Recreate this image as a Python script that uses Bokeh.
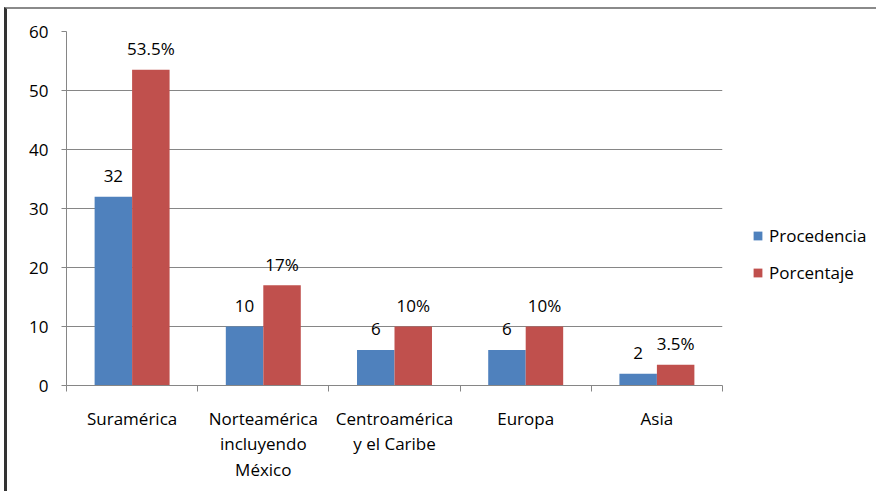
from bokeh.plotting import figure
from bokeh.models import ColumnDataSource, FixedTicker, Legend, LegendItem, Range1d
from bokeh.transform import dodge
from bokeh.core.properties import value
from bokeh.embed import file_html
from bokeh.resources import INLINE

categories = ["Suramérica", "Norteamérica\nincluyendo\nMéxico", "Centroamérica\ny el Caribe", "Europa", "Asia"]
procedencia = [32, 10, 6, 6, 2]
porcentaje = [53.5, 17, 10, 10, 3.5]
series_names = ["Procedencia", "Porcentaje"]
y_ticks = [0, 10, 20, 30, 40, 50, 60]

BLUE = "#4F81BD"
RED = "#C0504D"
FONT = "Open Sans"
FS = "17px"

xc = [i + 0.5 for i in range(len(categories))]
src = ColumnDataSource(dict(
    x=xc,
    proc=procedencia,
    porc=porcentaje,
    proc_lbl=[f"{v:g}" for v in procedencia],
    porc_lbl=[f"{v:g}%" for v in porcentaje],
))

bw = 1 / 3.5

p = figure(output_backend="svg", toolbar_location=None,
           frame_width=656, frame_height=354,
           x_range=Range1d(0, len(categories)), y_range=Range1d(0, 60),
           min_border_left=59, min_border_right=150,
           min_border_top=22, min_border_bottom=106)
p.styles = {"border-left": "3px solid #333333", "border-top": "2px solid #8a8a8a",
            "margin-left": "4px", "margin-top": "7px"}

r1 = p.vbar(x=dodge("x", -bw / 2), top="proc", width=bw, source=src,
            fill_color=BLUE, line_color=None)
r2 = p.vbar(x=dodge("x", bw / 2), top="porc", width=bw, source=src,
            fill_color=RED, line_color=None)

p.text(x=dodge("x", -bw / 2), y="proc", text="proc_lbl", source=src,
       text_align="center", text_baseline="alphabetic", y_offset=-21,
       text_font_size=FS, text_font=value(FONT), text_color="#000000")
p.text(x=dodge("x", bw / 2), y="porc", text="porc_lbl", source=src,
       text_align="center", text_baseline="alphabetic", y_offset=-21,
       text_font_size=FS, text_font=value(FONT), text_color="#000000")

# axes
p.xaxis.ticker = FixedTicker(ticks=xc, minor_ticks=list(range(len(categories) + 1)))
p.xaxis.major_label_overrides = {x: c for x, c in zip(xc, categories)}
p.xaxis.major_tick_line_color = None
p.xaxis.minor_tick_line_color = "#868686"
p.xaxis.minor_tick_out = 6
p.xaxis.minor_tick_in = 0
p.xaxis.axis_line_color = "#868686"
p.xaxis.major_label_standoff = 15
p.xaxis.major_label_text_font = FONT
p.xaxis.major_label_text_font_size = FS
p.xaxis.major_label_text_color = "#000000"
p.xaxis.major_label_text_line_height = 1.12

p.yaxis.ticker = FixedTicker(ticks=y_ticks)
p.yaxis.major_tick_line_color = "#868686"
p.yaxis.major_tick_out = 5
p.yaxis.major_tick_in = 0
p.yaxis.minor_tick_line_color = None
p.yaxis.axis_line_color = "#868686"
p.yaxis.major_label_standoff = 13
p.yaxis.major_label_text_font = FONT
p.yaxis.major_label_text_font_size = FS
p.yaxis.major_label_text_color = "#000000"

p.xgrid.grid_line_color = None
p.ygrid.grid_line_color = "#868686"
p.ygrid.ticker = FixedTicker(ticks=y_ticks[1:])
p.outline_line_color = None

legend = Legend(items=[LegendItem(label=series_names[0], renderers=[r1]),
                       LegendItem(label=series_names[1], renderers=[r2])],
                location=(30, 101), orientation="vertical",
                label_text_font=FONT, label_text_font_size=FS,
                label_text_color="#000000",
                glyph_width=11, glyph_height=11, spacing=14, label_height=20,
                label_standoff=6, background_fill_alpha=0,
                border_line_color=None, padding=4, margin=0)
p.add_layout(legend, "right")

open("out.html", "w").write(file_html(p, INLINE))
